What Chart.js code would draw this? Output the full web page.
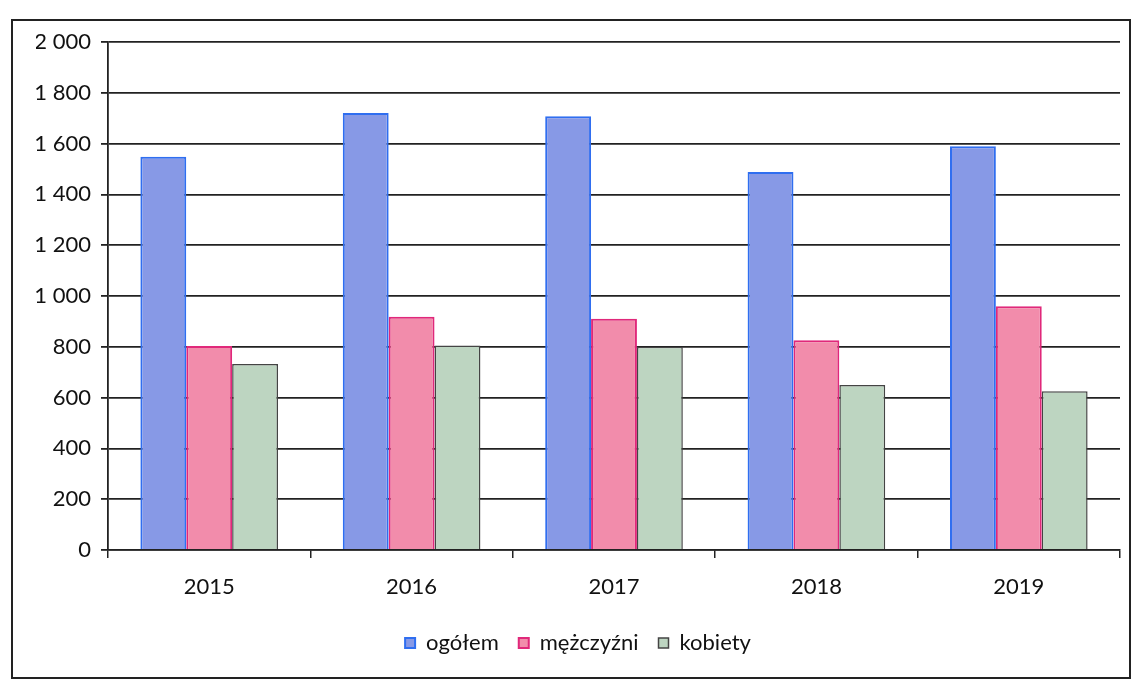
<!DOCTYPE html>
<html>
<head>
<meta charset="utf-8">
<script src="https://cdn.jsdelivr.net/npm/chart.js@4.4.0/dist/chart.umd.min.js"></script>
<style>
html,body{margin:0;padding:0;background:#fff;}
#wrap{width:1134px;height:684px;position:relative;}
</style>
</head>
<body>
<div id="wrap"><canvas id="c" width="1134" height="684"></canvas></div>
<script>
const categories = ["2015", "2016", "2017", "2018", "2019"];
const ogolem = [1548, 1720, 1708, 1488, 1590];
const mezczyzni = [803, 918, 910, 826, 960];
const kobiety = [732, 805, 800, 650, 625];
const yTicks = [0, 200, 400, 600, 800, 1000, 1200, 1400, 1600, 1800, 2000];

const FONT = "Lato, 'Open Sans', sans-serif";

const framePlugin = {
  id: 'frame',
  afterDraw(chart) {
    const ctx = chart.ctx;
    ctx.save();
    ctx.strokeStyle = '#222';
    ctx.lineWidth = 2;
    ctx.strokeRect(12, 20, 1118, 658);
    ctx.restore();
  }
};

new Chart(document.getElementById('c'), {
  type: 'bar',
  data: {
    labels: categories,
    datasets: [
      { label: 'ogółem', data: ogolem, backgroundColor: '#8799e6', borderColor: '#2f6ef0', borderWidth: 2 },
      { label: 'mężczyźni', data: mezczyzni, backgroundColor: '#f28cab', borderColor: '#e0287a', borderWidth: 2 },
      { label: 'kobiety', data: kobiety, backgroundColor: '#bdd5c1', borderColor: '#444', borderWidth: 1.5 }
    ]
  },
  options: {
    responsive: false,
    animation: false,
    layout: { padding: { left: 36, top: 42, right: 14, bottom: 20 } },
    datasets: { bar: { categoryPercentage: 0.68, barPercentage: 1.0 } },
    plugins: {
      legend: {
        position: 'bottom',
        labels: {
          font: { family: FONT, size: 22 },
          color: '#111',
          boxWidth: 10,
          boxHeight: 10,
          padding: 20
        }
      },
      tooltip: { enabled: false }
    },
    scales: {
      x: {
        grid: { drawOnChartArea: false, color: '#222', lineWidth: 1.5, tickLength: 8, offset: true },
        border: { color: '#222', width: 1.5 },
        ticks: { font: { family: FONT, size: 22 }, color: '#111', padding: 16 },
        afterFit(s) { s.height = 62; }
      },
      y: {
        min: 0, max: 2000,
        afterBuildTicks(s) { s.ticks = yTicks.map(v => ({ value: v })); },
        grid: { color: '#222', lineWidth: 1.8, tickLength: 7 },
        border: { color: '#222', width: 1.8 },
        ticks: {
          font: { family: FONT, size: 22 },
          color: '#111',
          padding: 10,
          callback: v => String(v).replace(/\B(?=(\d{3})+(?!\d))/g, ' ')
        },
        afterFit(s) { s.width = 72; }
      }
    }
  },
  plugins: [framePlugin]
});
</script>
</body>
</html>
